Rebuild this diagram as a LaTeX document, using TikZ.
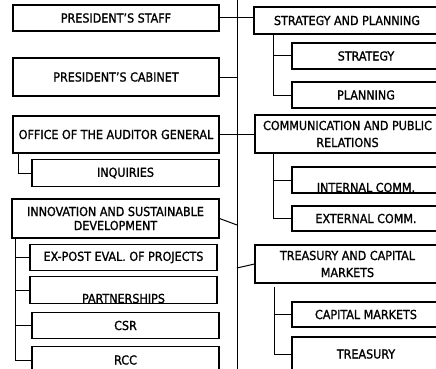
\documentclass[tikz,border=0pt]{standalone}
\usepackage{fontspec}
\setmainfont[FakeBold=1.2]{DejaVu Sans Condensed}
\begin{document}
\begin{tikzpicture}[x=1pt,y=-1pt,
  box/.style={draw=black, line width=1.1pt, fill=white, inner sep=0pt, align=center,
    font=\fontsize{12.4}{14}\selectfont},
  lbox/.style={box, minimum width=206pt},
  sbox/.style={box, minimum width=187pt, minimum height=26.5pt},
  rbox/.style={box, minimum width=186pt},
  rsbox/.style={box, minimum width=148pt, minimum height=26pt},
  wide/.style={font=\fontsize{12.4}{17}\selectfont},
  conn/.style={draw=black, line width=1pt}]
\useasboundingbox (0,0) rectangle (436,369);
\clip (0,0) rectangle (436,369);
% central spine
\coordinate (top) at (237,-2);
\coordinate (bot) at (237,371);
\draw[conn] (top) -- (bot);
% left column
\node[lbox, minimum height=26pt] (staff) at (116,18) {PRESIDENT'S STAFF};
\node[lbox, minimum height=38pt] (cabinet) at (116,77) {PRESIDENT'S CABINET};
\node[lbox, minimum height=37pt] (auditor) at (116,134.5) {OFFICE OF THE AUDITOR GENERAL};
\node[sbox] (inquiries) at (125.5,173) {INQUIRIES};
\node[lbox, minimum width=207pt, minimum height=39pt] (innov) at (115.5,218.5) {INNOVATION AND SUSTAINABLE\\DEVELOPMENT};
\node[sbox] (expost) at (123.5,257.5) {EX-POST EVAL. OF PROJECTS};
\node[sbox] (partner) at (123.5,290) {\raisebox{-13pt}[0pt][0pt]{PARTNERSHIPS}};
\node[sbox] (csr) at (125.5,325.5) {CSR};
\node[sbox] (rcc) at (125.5,360) {RCC};
% right column
\node[rbox, minimum height=27pt] (stratplan) at (347,20.5) {STRATEGY AND PLANNING};
\node[rsbox] (strategy) at (366,56) {STRATEGY};
\node[rsbox] (planning) at (366,95) {PLANNING};
\node[rbox, wide, minimum width=185pt, minimum height=38pt] (comm) at (347.5,134) {COMMUNICATION AND PUBLIC\\RELATIONS};
\node[rsbox] (internal) at (366,180) {\raisebox{-12pt}[0pt][0pt]{INTERNAL COMM.}};
\node[rsbox, minimum height=25pt] (external) at (366,218.5) {EXTERNAL COMM.};
\node[rbox, wide, minimum width=185pt, minimum height=38pt] (treascap) at (347.5,264) {TREASURY AND CAPITAL\\MARKETS};
\node[rsbox, minimum height=25pt] (capmk) at (366,314.5) {CAPITAL MARKETS};
\node[rsbox, minimum height=34pt] (treasury) at (366,354) {TREASURY};
% connectors to spine / across
\draw[conn] (staff.east) -- (staff.east -| stratplan.west);
\draw[conn] (cabinet.east) -- (cabinet.east -| top);
\draw[conn] (auditor.east) -- (auditor.east -| comm.west);
\coordinate (innovj) at (237,225);
\draw[conn] (innov.east) -- (innovj);
\coordinate (treasj) at (237,268);
\draw[conn] (treasj) -- (treascap.west);
% sub-branches left
\draw[conn] ([xshift=6pt]auditor.south west) |- (inquiries.west);
\coordinate (innovsub) at ([xshift=4pt]innov.south west);
\draw[conn] (innovsub) |- (rcc.west);
\draw[conn] (innovsub) |- (expost.west);
\draw[conn] (innovsub) |- (partner.west);
\draw[conn] (innovsub) |- (csr.west);
% sub-branches right
\coordinate (spsub) at ([xshift=20pt]stratplan.south west);
\draw[conn] (spsub) |- (strategy.west);
\draw[conn] (spsub) |- (planning.west);
\coordinate (cmsub) at ([xshift=19pt]comm.south west);
\draw[conn] (cmsub) |- (internal.west);
\draw[conn] (cmsub) |- (external.west);
\coordinate (tcsub) at (274,287);
\draw[conn] (tcsub) |- (capmk.west);
\draw[conn] (tcsub) |- (treasury.west);
\end{tikzpicture}
\end{document}
